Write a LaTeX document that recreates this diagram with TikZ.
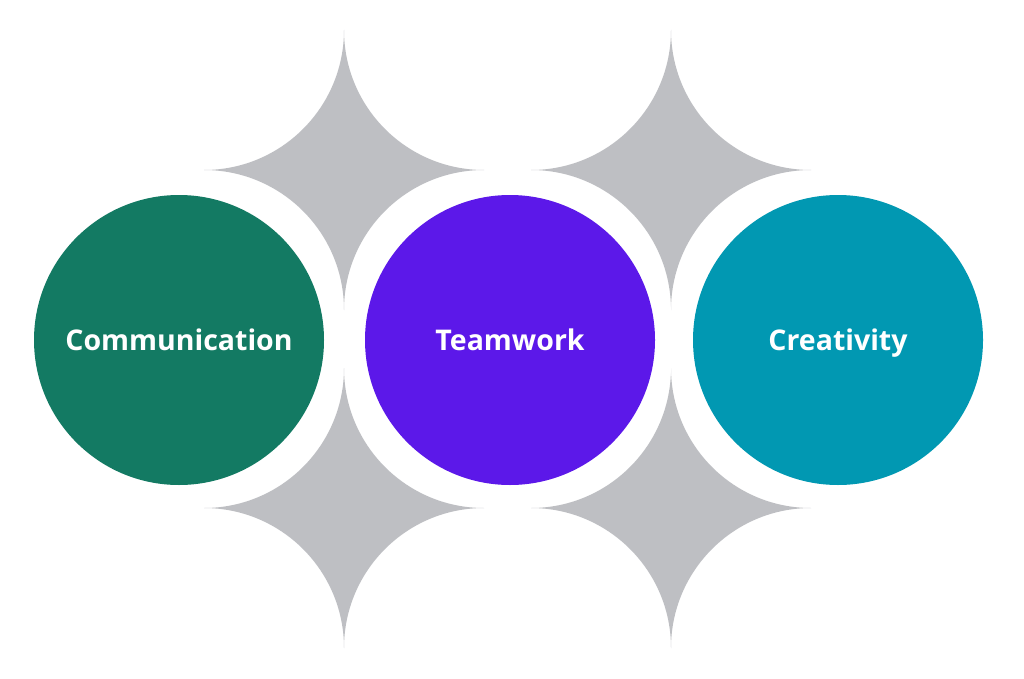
\documentclass[tikz,border=0pt]{standalone}
\usepackage{fontspec}
\setmainfont{Open Sans}
\definecolor{cgreen}{HTML}{137A63}
\definecolor{cpurple}{HTML}{5C18E9}
\definecolor{cteal}{HTML}{0198B2}
\definecolor{cgray}{HTML}{BEBFC3}
\newcommand\sparkle[1]{%
  \fill[cgray, shift={#1}] (0,-140) .. controls (0,-62.7) and (62.7,0) .. (140,0)
    .. controls (62.7,0) and (0,62.7) .. (0,140)
    .. controls (0,62.7) and (-62.7,0) .. (-140,0)
    .. controls (-62.7,0) and (0,-62.7) .. (0,-140) -- cycle;}
\tikzset{
  ring/.style={fill=white},
  bubble/.style={circle, minimum size=290pt, inner sep=0pt, text=white,
    text height=24pt, text depth=4pt,
    font=\fontsize{28.5}{34}\selectfont\bfseries}
}
\begin{document}
\begin{tikzpicture}[x=1pt,y=-1pt]
\useasboundingbox[fill=white] (0,0) rectangle (1024,679);
\sparkle{(344,170)}
\sparkle{(671,170)}
\sparkle{(344,508)}
\sparkle{(671,508)}
\fill[ring] (179,340) circle (164);
\fill[ring] (510,340) circle (164);
\fill[ring] (838,340) circle (164);
\node[bubble, fill=cgreen] (comm) at (179,340) {Communication};
\node[bubble, fill=cpurple] (team) at (510,340) {Teamwork};
\node[bubble, fill=cteal] (crea) at (838,340) {Creativity};
\end{tikzpicture}
\end{document}
